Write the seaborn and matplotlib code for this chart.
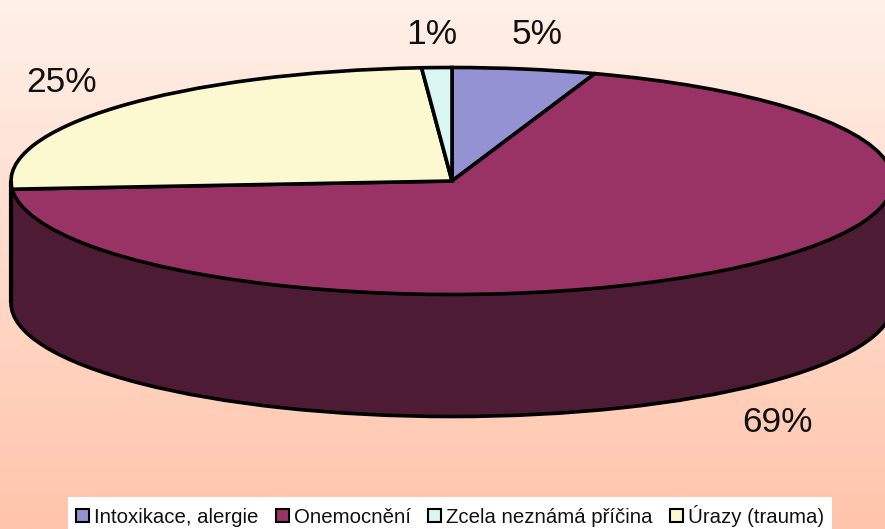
import numpy as np
import matplotlib
matplotlib.use('Agg')
import matplotlib.pyplot as plt
from matplotlib.colors import LinearSegmentedColormap
import seaborn as sns

# legend order
categories = ['Intoxikace, alergie', 'Onemocnění', 'Zcela neznámá příčina', 'Úrazy (trauma)']
values = [5.25, 68.6, 1.1, 25.05]
pct_labels = ['5%', '69%', '1%', '25%']
top_colors = ['#9592d4', '#993366', '#d9f6f2', '#fcf8cf']
side_color = '#4d1b33'
# slices run clockwise in another order than the legend
slice_order = [0, 1, 3, 2]

sns.set_theme(style='white')
plt.rcParams['font.family'] = ['Liberation Sans', 'DejaVu Sans']

W, H = 885, 529
# pie centre and radii in pixels of the picture
cx, cy, rx, ry = 452, 181, 441, 113.5
depth = 122 / ry
line = 2.6


def fx(px):
    return px / W


def fy(py):
    return 1 - py / H


fig = plt.figure(figsize=(W / 100, H / 100), dpi=100)

# background gradient
bg = fig.add_axes([0, 0, 1, 1], zorder=0)
cmap = LinearSegmentedColormap.from_list('bg', ['#fff0e8', '#ffc4ab'])
bg.imshow(np.linspace(0, 1, 256).reshape(-1, 1), cmap=cmap, aspect='auto')
bg.axis('off')

ax = fig.add_axes([0, 0, 1, 1], zorder=1)
ax.patch.set_alpha(0)

# bottom of the cylinder, then the wall, then the top face
ax.pie([sum(values)], colors=[side_color], startangle=90, center=(0, -depth),
       wedgeprops={'edgecolor': 'black', 'linewidth': line})
ax.bar(0, depth, width=2, bottom=-depth, color=side_color, linewidth=0)
ax.vlines([-1, 1], -depth, 0, color='black', linewidth=3)
wedges, _ = ax.pie([values[i] for i in slice_order], colors=[top_colors[i] for i in slice_order],
                   startangle=90, counterclock=False,
                   wedgeprops={'edgecolor': 'black', 'linewidth': line})

ax.set_aspect('auto')
ax.set_xlim((0 - cx) / rx, (W - cx) / rx)
ax.set_ylim((cy - H) / ry, cy / ry)
ax.axis('off')

# percent labels
label_pos = [(537, 34), (778, 423), (432, 34), (62, 82)]
for txt, (px, py) in zip(pct_labels, label_pos):
    fig.text(fx(px), fy(py), txt, fontsize=25.5, color='#111111', ha='center', va='center', zorder=3)

# wedges come in slice order, the legend wants its own
handles = [wedges[slice_order.index(i)] for i in range(len(categories))]
leg = ax.legend(handles, categories, ncol=4, loc='lower left', bbox_to_anchor=(fx(68), fy(535)),
                fontsize=14.7, frameon=True, fancybox=False, framealpha=1, facecolor='white',
                edgecolor='none', handlelength=0.62, handleheight=0.62, handletextpad=0.27,
                columnspacing=0.84, borderpad=0.4, borderaxespad=0, labelcolor='#111111')
for h in leg.legend_handles:
    h.set_linewidth(1.5)

fig.savefig('out.png', dpi=100)
